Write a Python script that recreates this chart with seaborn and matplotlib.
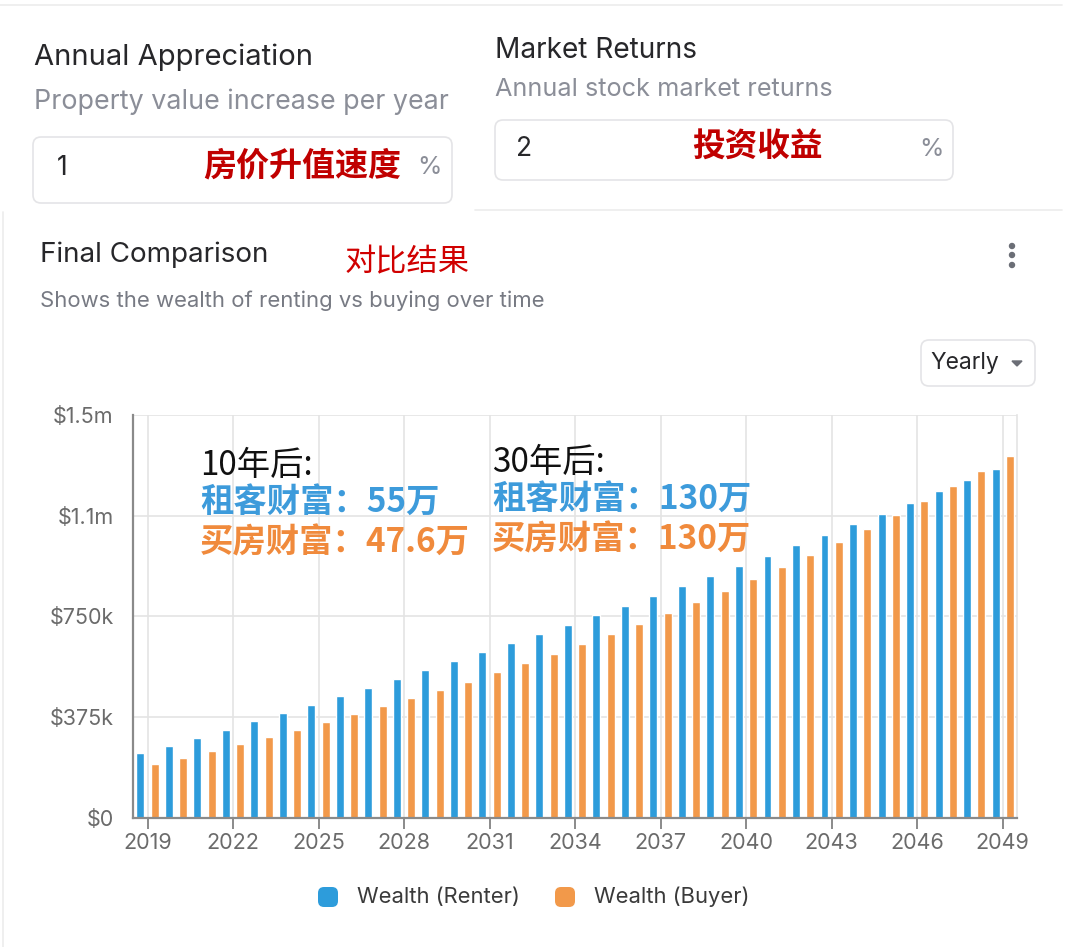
import matplotlib
matplotlib.use("Agg")
import matplotlib.pyplot as plt
from matplotlib.patches import FancyBboxPatch
from matplotlib.lines import Line2D
import seaborn as sns
import pandas as pd

# ---------------- data ----------------
years = [str(y) for y in range(2019, 2050)]
renter = [240, 268, 298, 328, 359, 389, 421, 452, 484, 517, 549, 582, 616, 650, 684,
          719, 755, 790, 827, 863, 901, 939, 976, 1015, 1054, 1094, 1132, 1173, 1216, 1257, 1299]
buyer = [199, 223, 248, 274, 299, 328, 355, 385, 415, 445, 476, 507, 541, 575, 610,
         646, 683, 721, 761, 802, 843, 888, 933, 978, 1027, 1076, 1126, 1180, 1234, 1291, 1347]
series_names = ["Wealth (Renter)", "Wealth (Buyer)"]
y_ticks = [0, 375000, 750000, 1125000, 1500000]
y_tick_labels = ["$0", "$375k", "$750k", "$1.1m", "$1.5m"]
colors = ["#2D9CDB", "#F2994A"]

df = pd.DataFrame({
    "year": years * 2,
    "series": [series_names[0]] * len(years) + [series_names[1]] * len(years),
    "value": [v * 1000 for v in renter] + [v * 1000 for v in buyer],
})

sns.set_theme(style="white")
plt.rcParams["font.family"] = ["Inter", "Noto Sans CJK SC", "DejaVu Sans"]

W, H = 1080, 947
fig = plt.figure(figsize=(W / 100, H / 100), dpi=100)
fig.patch.set_facecolor("white")


def fx(x):
    return x / W


def fy(y):
    return 1 - y / H


def ftext(x, y, s, **kw):
    fig.text(fx(x), fy(y), s, **kw)


def fbox(x0, y0, x1, y1, r=8, ec="#e4e4e7", fc="white", lw=1.2):
    p = FancyBboxPatch((fx(x0), fy(y1)), fx(x1) - fx(x0), fy(y0) - fy(y1),
                       boxstyle=f"round,pad=0,rounding_size={r / W}",
                       transform=fig.transFigure, ec=ec, fc=fc, lw=lw,
                       mutation_aspect=W / H)
    fig.patches.append(p)


def fline(x0, y0, x1, y1, c="#ececec", lw=1.2):
    fig.lines.append(Line2D([fx(x0), fx(x1)], [fy(y0), fy(y1)], transform=fig.transFigure,
                            color=c, lw=lw))


# ---------------- top input panels ----------------
fline(0, 5, 1062, 5)
fline(475, 210, 1062, 210)
fline(3, 212, 3, 947)

ftext(34, 57, "Annual Appreciation", fontsize=21, color="#27272a", va="center")
ftext(34, 102, "Property value increase per year", fontsize=19.3, color="#8b8e98", va="center")
fbox(33, 137, 452, 203)
ftext(57, 168, "1", fontsize=19, color="#27272a", va="center")
ftext(203, 166, "房价升值速度", fontsize=23.8, color="#C00000", va="center", fontweight="bold",
      family=["Noto Sans CJK SC"])
ftext(417, 168, "%", fontsize=18, color="#8b8e98", va="center")

ftext(495, 50, "Market Returns", fontsize=20.2, color="#27272a", va="center")
ftext(495, 89, "Annual stock market returns", fontsize=18.2, color="#8b8e98", va="center")
fbox(495, 120, 953, 180)
ftext(516, 149, "2", fontsize=19, color="#27272a", va="center")
ftext(692, 147, "投资收益", fontsize=23.5, color="#C00000", va="center", fontweight="bold",
      family=["Noto Sans CJK SC"])
ftext(919, 149, "%", fontsize=18, color="#8b8e98", va="center")

# ---------------- chart card header ----------------
ftext(40, 255, "Final Comparison", fontsize=20, color="#27272a", va="center")
ftext(345, 262, "对比结果", fontsize=22.5, color="#D00000", va="center",
      family=["Noto Sans CJK SC"])
ftext(40, 301, "Shows the wealth of renting vs buying over time", fontsize=15.9,
      color="#777a83", va="center")
for yy in (246, 255, 265):
    fig.patches.append(matplotlib.patches.Ellipse((fx(1012), fy(yy)), 5 / W, 5 / H,
                                                  transform=fig.transFigure, color="#6b6e76"))
fbox(921, 340, 1035, 386, r=8)
ftext(930, 363, "Yearly", fontsize=16.5, color="#27272a", va="center")
fig.patches.append(matplotlib.patches.Polygon(
    [(fx(1012), fy(361)), (fx(1022), fy(361)), (fx(1017), fy(366))],
    closed=True, transform=fig.transFigure, color="#6b6e76"))

# ---------------- chart ----------------
ax = fig.add_axes([fx(133.3), fy(817.7), fx(1016.9) - fx(133.3), fy(415) - fy(817.7)])
sns.barplot(data=df, x="year", y="value", hue="series", hue_order=series_names,
            palette=colors, width=1.0, gap=0.44, saturation=1, legend=False, ax=ax,
            errorbar=None)
ax.set_xlim(-0.5, len(years) - 0.5)
ax.set_ylim(0, 1500000)
ax.set_yticks(y_ticks)
ax.set_yticklabels(y_tick_labels)
xt = list(range(0, len(years), 3))
ax.set_xticks(xt)
ax.set_xticklabels([years[i] for i in xt])
ax.set_xlabel("")
ax.set_ylabel("")
ax.grid(True, color="#e4e4e4", lw=1.2)
ax.set_axisbelow(True)
ax.spines["top"].set_visible(False)
ax.spines["right"].set_color("#e4e4e4")
ax.spines["right"].set_linewidth(1.2)
for s in ("left", "bottom"):
    ax.spines[s].set_color("#8a8a8a")
    ax.spines[s].set_linewidth(1.6)
ax.tick_params(axis="x", length=8, width=1.4, color="#8a8a8a", labelsize=15.5,
               labelcolor="#6b6b6b", pad=3, direction="out", bottom=True)
ax.tick_params(axis="y", length=0, labelsize=15.5, labelcolor="#6b6b6b", pad=14)

# annotations
cjk = ["Noto Sans CJK SC"]
ftext(200, 465, "10年后:", fontsize=24, color="#111111", va="center", family=cjk)
ftext(200, 503, "租客财富：55万", fontsize=24, color="#3D9BDB", va="center",
      fontweight="bold", family=cjk)
ftext(200, 543, "买房财富：47.6万", fontsize=24, color="#F08A3C", va="center",
      fontweight="bold", family=cjk)
ftext(492, 462, "30年后:", fontsize=24, color="#111111", va="center", family=cjk)
ftext(492, 500, "租客财富：130万", fontsize=24, color="#3D9BDB", va="center",
      fontweight="bold", family=cjk)
ftext(492, 540, "买房财富：130万", fontsize=24, color="#F08A3C", va="center",
      fontweight="bold", family=cjk)

# legend
for x0, c, label in ((318, colors[0], series_names[0]), (555, colors[1], series_names[1])):
    fbox(x0, 887, x0 + 20, 907, r=6, ec=c, fc=c, lw=0)
    ftext(x0 + 39, 897, label, fontsize=15.8, color="#3a3a3a", va="center")

fig.savefig("out.png", dpi=100, facecolor="white")
